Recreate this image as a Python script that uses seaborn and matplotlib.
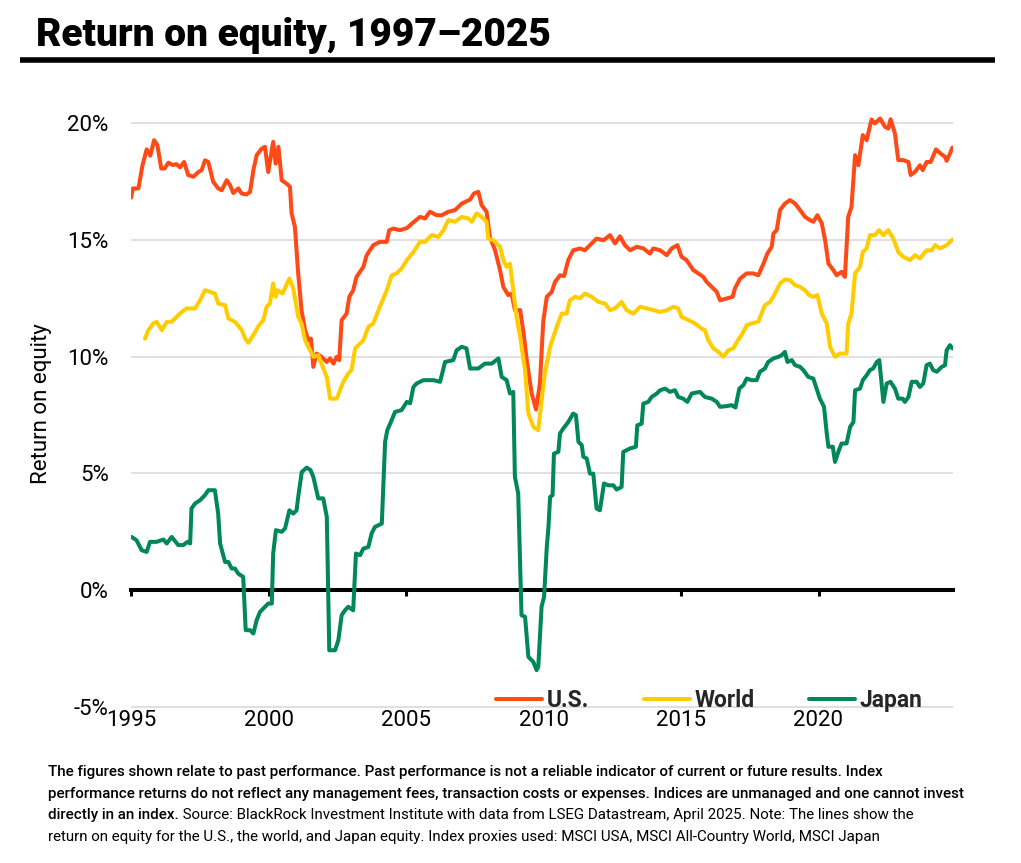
import numpy as np
import pandas as pd
import matplotlib
matplotlib.use('Agg')
import matplotlib.pyplot as plt
from matplotlib import font_manager
from matplotlib.lines import Line2D
import seaborn as sns

# Data (approximate monthly path, % return on equity)
us_year = [1995.00, 1995.07, 1995.27, 1995.42, 1995.57, 1995.70, 1995.84, 1995.96, 1996.10, 1996.22,
           1996.36, 1996.52, 1996.65, 1996.78, 1996.93, 1997.08, 1997.27, 1997.45, 1997.57, 1997.69,
           1997.81, 1997.99, 1998.17, 1998.30, 1998.48, 1998.60, 1998.72, 1998.90, 1999.02, 1999.20,
           1999.33, 1999.45, 1999.57, 1999.75, 1999.87, 1999.99, 2000.17, 2000.26, 2000.36, 2000.48,
           2000.66, 2000.78, 2000.84, 2000.96, 2001.08, 2001.20, 2001.33, 2001.45, 2001.54, 2001.63,
           2001.75, 2001.93, 2002.12, 2002.24, 2002.36, 2002.48, 2002.57, 2002.66, 2002.84, 2002.94,
           2003.08, 2003.20, 2003.45, 2003.57, 2003.81, 2004.05, 2004.30, 2004.39, 2004.54, 2004.78,
           2005.03, 2005.27, 2005.51, 2005.69, 2005.87, 2006.12, 2006.30, 2006.54, 2006.78, 2007.03,
           2007.33, 2007.47, 2007.63, 2007.75, 2007.93, 2008.05, 2008.24, 2008.42, 2008.54, 2008.72,
           2008.84, 2008.96, 2009.15, 2009.27, 2009.39, 2009.57, 2009.73, 2009.87, 2009.99, 2010.12,
           2010.30, 2010.42, 2010.60, 2010.75, 2010.90, 2011.08, 2011.33, 2011.50, 2011.69, 2011.93,
           2012.18, 2012.42, 2012.60, 2012.78, 2012.96, 2013.15, 2013.39, 2013.63, 2013.87, 2013.99,
           2014.24, 2014.48, 2014.66, 2014.87, 2015.02, 2015.20, 2015.45, 2015.63, 2015.81, 2015.93,
           2016.12, 2016.30, 2016.42, 2016.66, 2016.88, 2016.96, 2017.15, 2017.39, 2017.63, 2017.81,
           2018.00, 2018.14, 2018.30, 2018.36, 2018.48, 2018.60, 2018.78, 2018.96, 2019.15, 2019.33,
           2019.51, 2019.69, 2019.81, 2019.96, 2020.12, 2020.24, 2020.36, 2020.54, 2020.66, 2020.84,
           2020.96, 2021.08, 2021.20, 2021.33, 2021.45, 2021.61, 2021.75, 2021.93, 2022.05, 2022.24,
           2022.42, 2022.54, 2022.62, 2022.78, 2022.90, 2023.08, 2023.27, 2023.35, 2023.51, 2023.69,
           2023.79, 2023.93, 2024.08, 2024.27, 2024.44, 2024.60, 2024.66, 2024.78, 2024.87]
us_roe = [16.8, 17.2, 17.2, 18.2, 18.87, 18.6, 19.26, 19.05, 18.05, 18.05,
          18.3, 18.2, 18.24, 18.1, 18.33, 17.77, 17.7, 17.9, 17.98, 18.4,
          18.33, 17.48, 17.2, 17.12, 17.55, 17.34, 17.0, 17.2, 16.98, 16.94,
          17.05, 17.98, 18.62, 18.9, 18.98, 17.9, 19.19, 18.26, 18.98, 17.55,
          17.4, 17.27, 16.13, 15.55, 13.56, 11.99, 11.13, 10.7, 10.77, 9.56,
          10.13, 9.99, 9.77, 9.92, 9.7, 9.99, 9.85, 11.56, 11.84, 12.56,
          12.84, 13.41, 13.84, 14.34, 14.77, 14.91, 14.91, 15.41, 15.48, 15.41,
          15.5, 15.75, 15.98, 15.91, 16.2, 16.05, 16.05, 16.2, 16.27, 16.55,
          16.72, 16.98, 17.05, 16.48, 16.2, 15.12, 14.55, 13.7, 12.98, 12.63,
          12.7, 11.99, 11.99, 11.06, 9.85, 8.42, 7.73, 8.85, 11.49, 12.56,
          12.77, 13.2, 13.48, 13.45, 14.13, 14.55, 14.63, 14.55, 14.77, 15.05,
          14.98, 15.2, 14.84, 15.15, 14.77, 14.55, 14.7, 14.63, 14.41, 14.63,
          14.55, 14.34, 14.63, 14.77, 14.27, 14.13, 13.7, 13.56, 13.41, 13.2,
          12.98, 12.77, 12.41, 12.49, 12.56, 12.92, 13.34, 13.56, 13.56, 13.48,
          13.98, 14.41, 14.7, 15.27, 15.41, 16.27, 16.55, 16.7, 16.55, 16.27,
          15.98, 15.84, 15.77, 16.05, 15.7, 14.98, 13.98, 13.7, 13.48, 13.63,
          13.41, 15.98, 16.41, 18.62, 18.19, 19.48, 19.26, 20.15, 19.98, 20.19,
          19.83, 19.76, 20.16, 19.55, 18.41, 18.41, 18.33, 17.77, 17.91, 18.19,
          17.98, 18.33, 18.33, 18.87, 18.69, 18.55, 18.38, 18.69, 18.95]

world_year = [1995.51, 1995.63, 1995.81, 1995.93, 1996.12, 1996.30, 1996.48, 1996.78, 1997.02, 1997.33,
              1997.51, 1997.69, 1997.87, 1998.05, 1998.17, 1998.42, 1998.54, 1998.78, 1999.03, 1999.15,
              1999.27, 1999.45, 1999.63, 1999.81, 1999.93, 2000.05, 2000.17, 2000.26, 2000.33, 2000.51,
              2000.76, 2000.90, 2001.08, 2001.20, 2001.33, 2001.45, 2001.63, 2001.81, 2001.97, 2002.12,
              2002.24, 2002.48, 2002.72, 2002.90, 2003.02, 2003.15, 2003.45, 2003.63, 2003.81, 2004.05,
              2004.30, 2004.48, 2004.66, 2004.84, 2005.03, 2005.27, 2005.51, 2005.69, 2005.93, 2006.18,
              2006.36, 2006.54, 2006.78, 2007.03, 2007.27, 2007.39, 2007.57, 2007.75, 2007.93, 2007.99,
              2008.18, 2008.42, 2008.54, 2008.66, 2008.78, 2008.90, 2009.02, 2009.15, 2009.33, 2009.45,
              2009.63, 2009.81, 2009.93, 2010.05, 2010.24, 2010.36, 2010.48, 2010.66, 2010.84, 2010.96,
              2011.15, 2011.33, 2011.51, 2011.75, 2011.99, 2012.24, 2012.42, 2012.60, 2012.84, 2013.02,
              2013.27, 2013.51, 2013.75, 2014.00, 2014.24, 2014.48, 2014.72, 2014.90, 2015.02, 2015.27,
              2015.51, 2015.75, 2015.87, 2015.99, 2016.18, 2016.36, 2016.54, 2016.72, 2016.90, 2017.03,
              2017.20, 2017.39, 2017.57, 2017.81, 2017.93, 2018.05, 2018.24, 2018.42, 2018.60, 2018.78,
              2018.96, 2019.15, 2019.33, 2019.51, 2019.66, 2019.81, 2019.96, 2020.12, 2020.30, 2020.42,
              2020.60, 2020.78, 2021.02, 2021.08, 2021.20, 2021.33, 2021.51, 2021.61, 2021.75, 2021.87,
              2022.05, 2022.20, 2022.36, 2022.54, 2022.72, 2022.90, 2023.08, 2023.33, 2023.51, 2023.69,
              2023.93, 2024.12, 2024.24, 2024.42, 2024.66, 2024.87]
world_roe = [10.77, 11.13, 11.42, 11.49, 11.13, 11.49, 11.49, 11.84, 12.06, 12.06,
             12.41, 12.84, 12.77, 12.7, 12.27, 12.2, 11.63, 11.49, 11.13, 10.77,
             10.59, 10.92, 11.3, 11.56, 12.13, 12.27, 13.13, 12.56, 12.84, 12.7,
             13.34, 12.92, 11.7, 11.42, 10.7, 10.42, 9.99, 10.06, 9.56, 9.13,
             8.2, 8.2, 8.92, 9.28, 9.42, 10.35, 10.7, 11.27, 11.42, 12.13,
             12.84, 13.48, 13.56, 13.77, 14.13, 14.48, 14.91, 14.91, 15.2, 15.12,
             15.41, 15.84, 15.77, 15.98, 15.91, 15.77, 16.13, 15.98, 15.77, 15.05,
             14.98, 14.7, 14.13, 13.84, 13.98, 12.84, 11.7, 10.84, 9.42, 7.56,
             6.99, 6.85, 8.13, 9.28, 10.42, 10.84, 11.27, 11.84, 11.84, 12.41,
             12.56, 12.5, 12.7, 12.56, 12.34, 12.27, 11.99, 12.06, 12.34, 11.99,
             11.84, 12.13, 12.06, 11.99, 11.91, 11.98, 12.13, 12.06, 11.7, 11.56,
             11.42, 11.2, 11.13, 10.7, 10.35, 10.2, 9.99, 10.27, 10.35, 10.63,
             10.92, 11.34, 11.42, 11.49, 11.84, 12.2, 12.34, 12.7, 13.13, 13.3,
             13.27, 13.06, 12.98, 12.84, 12.63, 12.56, 12.63, 11.84, 11.42, 10.42,
             9.99, 10.13, 10.13, 11.42, 11.84, 13.56, 13.84, 14.48, 14.63, 15.2,
             15.2, 15.41, 15.2, 15.41, 15.05, 14.48, 14.27, 14.13, 14.34, 14.2,
             14.55, 14.55, 14.77, 14.63, 14.77, 15.01]

japan_year = [1995.02, 1995.20, 1995.39, 1995.57, 1995.69, 1995.93, 1996.18, 1996.30, 1996.48, 1996.72,
              1996.90, 1997.05, 1997.15, 1997.20, 1997.33, 1997.51, 1997.69, 1997.81, 1998.05, 1998.17,
              1998.24, 1998.42, 1998.54, 1998.66, 1998.78, 1998.90, 1999.08, 1999.17, 1999.33, 1999.45,
              1999.57, 1999.69, 1999.87, 1999.99, 2000.12, 2000.17, 2000.27, 2000.48, 2000.60, 2000.76,
              2000.90, 2001.02, 2001.08, 2001.21, 2001.39, 2001.53, 2001.63, 2001.81, 2001.99, 2002.12,
              2002.21, 2002.42, 2002.54, 2002.66, 2002.78, 2002.90, 2003.08, 2003.18, 2003.33, 2003.45,
              2003.63, 2003.75, 2003.87, 2004.12, 2004.24, 2004.32, 2004.48, 2004.60, 2004.84, 2005.03,
              2005.15, 2005.27, 2005.39, 2005.63, 2006.00, 2006.24, 2006.42, 2006.72, 2006.84, 2007.03,
              2007.20, 2007.33, 2007.63, 2007.87, 2008.12, 2008.36, 2008.48, 2008.66, 2008.78, 2008.90,
              2008.96, 2009.08, 2009.20, 2009.33, 2009.45, 2009.63, 2009.75, 2009.81, 2009.93, 2010.02,
              2010.12, 2010.18, 2010.24, 2010.33, 2010.38, 2010.54, 2010.60, 2010.72, 2010.90, 2011.08,
              2011.18, 2011.27, 2011.39, 2011.45, 2011.57, 2011.69, 2011.81, 2011.93, 2012.05, 2012.20,
              2012.36, 2012.54, 2012.66, 2012.84, 2012.90, 2013.15, 2013.36, 2013.41, 2013.57, 2013.63,
              2013.81, 2013.93, 2014.12, 2014.24, 2014.42, 2014.60, 2014.78, 2014.90, 2015.08, 2015.23,
              2015.39, 2015.69, 2015.87, 2016.12, 2016.30, 2016.42, 2016.66, 2016.84, 2016.98, 2017.12,
              2017.27, 2017.39, 2017.57, 2017.75, 2017.87, 2018.05, 2018.17, 2018.36, 2018.54, 2018.66,
              2018.78, 2018.87, 2019.03, 2019.15, 2019.33, 2019.45, 2019.63, 2019.81, 2019.93, 2020.05,
              2020.20, 2020.30, 2020.36, 2020.52, 2020.60, 2020.72, 2020.84, 2021.02, 2021.15, 2021.27,
              2021.33, 2021.51, 2021.61, 2021.75, 2021.87, 2021.99, 2022.12, 2022.21, 2022.36, 2022.48,
              2022.62, 2022.78, 2022.90, 2023.06, 2023.14, 2023.27, 2023.39, 2023.57, 2023.69, 2023.81,
              2023.93, 2024.05, 2024.17, 2024.30, 2024.48, 2024.60, 2024.66, 2024.78, 2024.87]
japan_roe = [2.28, 2.14, 1.71, 1.64, 2.07, 2.07, 2.17, 2.0, 2.28, 1.93,
             1.93, 2.07, 2.0, 3.5, 3.71, 3.85, 4.07, 4.28, 4.28, 3.28,
             2.0, 1.21, 1.21, 0.93, 0.93, 0.71, 0.57, -1.71, -1.71, -1.85,
             -1.28, -0.93, -0.71, -0.57, -0.57, 1.57, 2.57, 2.5, 2.64, 3.42,
             3.28, 3.42, 3.99, 5.06, 5.25, 5.14, 4.85, 3.93, 3.93, 3.14,
             -2.57, -2.57, -2.14, -1.07, -0.86, -0.71, -0.86, 1.57, 1.5, 1.78,
             1.85, 2.43, 2.71, 2.85, 6.35, 6.85, 7.28, 7.63, 7.71, 8.06,
             8.0, 8.7, 8.85, 8.99, 8.99, 8.92, 9.77, 9.85, 10.27, 10.42,
             10.35, 9.49, 9.49, 9.7, 9.7, 9.92, 9.13, 8.99, 8.42, 8.49,
             4.85, 4.14, -1.07, -1.14, -2.85, -3.07, -3.42, -3.28, -0.71, -0.28,
             1.85, 2.71, 3.99, 4.07, 5.85, 5.92, 6.71, 6.92, 7.2, 7.56,
             7.49, 6.35, 6.21, 5.71, 5.64, 4.99, 4.99, 3.5, 3.42, 4.57,
             4.49, 4.49, 4.31, 4.42, 5.92, 6.07, 6.14, 7.06, 7.13, 7.99,
             8.06, 8.27, 8.42, 8.56, 8.63, 8.49, 8.56, 8.27, 8.2, 8.06,
             8.42, 8.49, 8.27, 8.2, 8.06, 7.85, 7.88, 7.92, 7.82, 8.63,
             8.78, 9.06, 8.99, 8.99, 9.35, 9.49, 9.77, 9.92, 9.99, 10.06,
             10.2, 9.77, 9.85, 9.63, 9.56, 9.42, 9.13, 9.06, 8.63, 8.2,
             7.85, 6.71, 6.14, 6.14, 5.49, 5.92, 6.28, 6.28, 6.99, 7.2,
             8.56, 8.63, 8.99, 9.2, 9.42, 9.49, 9.77, 9.85, 8.06, 8.85,
             8.92, 8.63, 8.2, 8.2, 8.06, 8.27, 8.92, 8.92, 8.7, 8.85,
             9.63, 9.7, 9.42, 9.35, 9.56, 9.63, 10.27, 10.49, 10.35]

series_names = ['U.S.', 'World', 'Japan']
series_colors = ['#FF4A17', '#FFCC00', '#00875A']
x_ticks = [1995, 2000, 2005, 2010, 2015, 2020]
y_ticks = [-5, 0, 5, 10, 15, 20]
y_tick_labels = ['-5%', '0%', '5%', '10%', '15%', '20%']

TITLE = 'Return on equity, 1997–2025'
FOOT_BOLD = ['The figures shown relate to past performance. Past performance is not a reliable indicator of current or future results. Index',
             'performance returns do not reflect any management fees, transaction costs or expenses. Indices are unmanaged and one cannot invest',
             'directly in an index.']
FOOT_REG = [' Source: BlackRock Investment Institute with data from LSEG Datastream, April 2025. Note: The lines show the',
            'return on equity for the U.S., the world, and Japan equity. Index proxies used: MSCI USA, MSCI All-Country World, MSCI Japan']

sns.set_style('white')
plt.rcParams['font.family'] = ['Roboto', 'DejaVu Sans']

# pick a narrow face for the footnote if one is installed
try:
    font_manager.findfont('Liberation Sans Narrow', fallback_to_default=False)
    FOOT_FONT, FOOT_SIZE, FOOT_WEIGHT = ['Liberation Sans Narrow', 'DejaVu Sans'], 12.3, 'bold'
except ValueError:
    FOOT_FONT, FOOT_SIZE, FOOT_WEIGHT = ['Roboto', 'DejaVu Sans'], 10.9, 'medium'

df = pd.concat([
    pd.DataFrame({'year': us_year, 'roe': us_roe, 'series': 'U.S.'}),
    pd.DataFrame({'year': world_year, 'roe': world_roe, 'series': 'World'}),
    pd.DataFrame({'year': japan_year, 'roe': japan_roe, 'series': 'Japan'}),
], ignore_index=True)

W, H = 1021, 863
fig = plt.figure(figsize=(W / 100, H / 100), dpi=100)
ax = fig.add_axes([131 / W, (H - 711.7) / H, 821.7 / W, (711.7 - 99.6) / H])

sns.lineplot(data=df, x='year', y='roe', hue='series', hue_order=series_names,
             palette=dict(zip(series_names, series_colors)), linewidth=2.9,
             solid_capstyle='round', solid_joinstyle='round', zorder=3, ax=ax)

ax.set_xlim(1995, 2024.88)
ax.set_ylim(-5.2, 21)
ax.set_xlabel('')
ax.set_ylabel('')

# horizontal grid only
ax.set_yticks(y_ticks)
ax.set_yticklabels(y_tick_labels)
ax.yaxis.grid(True, color='#D6D6DE', linewidth=1.1)
ax.xaxis.grid(False)
ax.set_axisbelow(True)

for side in ['left', 'right', 'top']:
    ax.spines[side].set_visible(False)
ax.spines['bottom'].set_position(('data', 0))
ax.spines['bottom'].set_linewidth(2.9)
ax.spines['bottom'].set_color('black')
ax.spines['bottom'].set_zorder(2.5)

ax.set_xticks(x_ticks)
ax.set_xticklabels([str(x) for x in x_ticks])
ax.tick_params(axis='x', bottom=True, direction='out', length=4.5, width=2.2, color='black',
               pad=82, labelsize=16, labelcolor='black')
ax.tick_params(axis='y', left=False, length=0, pad=16, labelsize=16, labelcolor='black')

fig.text(42 / W, 1 - 404 / H, 'Return on equity', rotation=90, ha='center', va='center',
         fontsize=16, color='black')

handles, labels = ax.get_legend_handles_labels()
ax.legend(handles, labels, loc='center', bbox_to_anchor=(0.704, 0.019), ncol=3,
          frameon=False, handlelength=2.0, handletextpad=0.2, columnspacing=2.4,
          borderpad=0, prop={'weight': 'bold', 'size': 16.5})

# title and rule
fig.text(36 / W, 1 - 36 / H, TITLE, fontsize=28, fontweight='black', ha='left', va='center',
         color='black')
fig.add_artist(Line2D([20 / W, 995 / W], [1 - 60 / H, 1 - 60 / H], color='black',
                      linewidth=4, solid_capstyle='butt'))

# footnote
base_y = [776, 798, 819, 841]
for i, line in enumerate(FOOT_BOLD):
    t = fig.text(48 / W, 1 - base_y[i] / H, line, fontsize=FOOT_SIZE, fontweight=FOOT_WEIGHT,
                 family=FOOT_FONT, ha='left', va='baseline', color='black')
ax.annotate(FOOT_REG[0], xy=(1, 0), xycoords=t, ha='left', va='bottom', fontsize=FOOT_SIZE,
            family=FOOT_FONT, color='black', annotation_clip=False)
fig.text(48 / W, 1 - base_y[3] / H, FOOT_REG[1], fontsize=FOOT_SIZE, family=FOOT_FONT,
         ha='left', va='baseline', color='black')

fig.savefig('out.png', dpi=100)
